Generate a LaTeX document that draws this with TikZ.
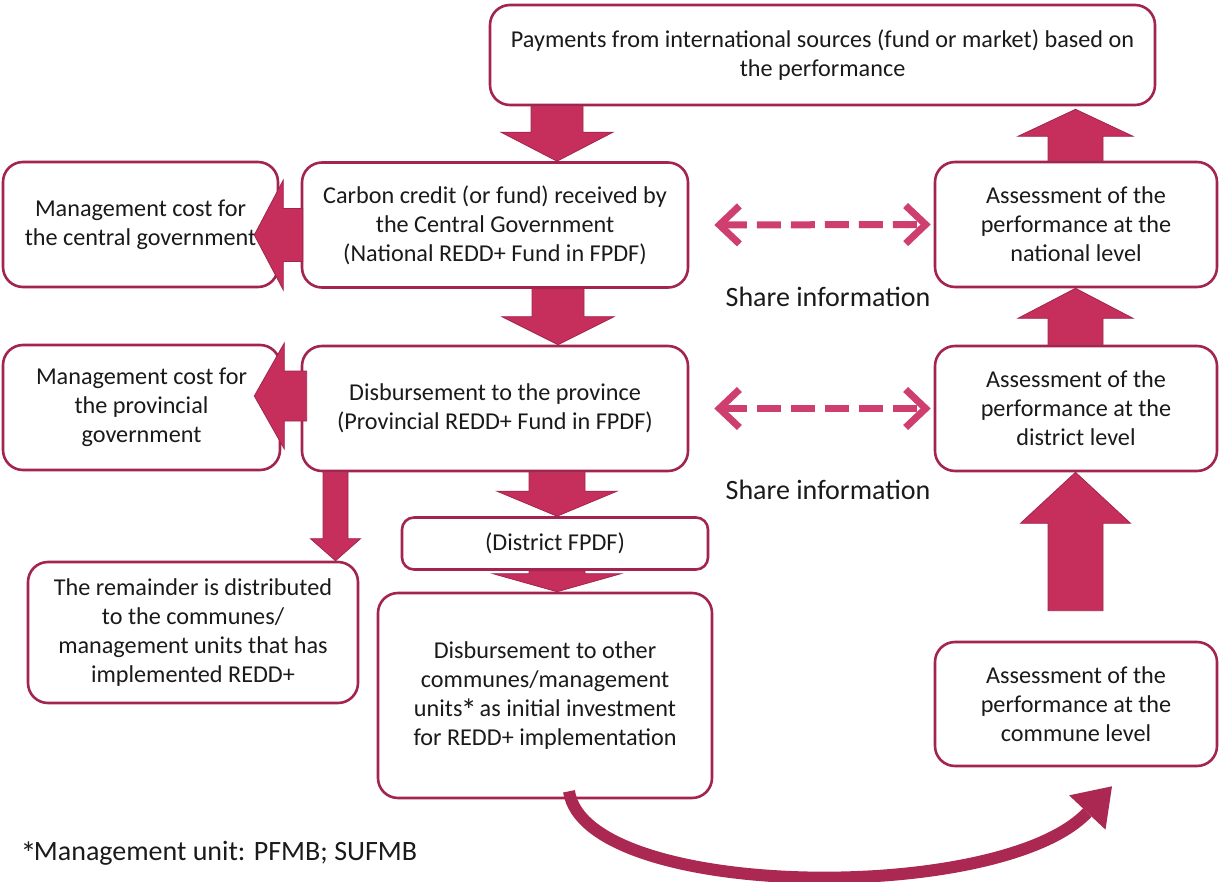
\documentclass[tikz,border=0pt]{standalone}
\usepackage{fontspec}
\setmainfont{Carlito}
\usetikzlibrary{arrows.meta,calc}

\definecolor{boxcol}{HTML}{A3244F}
\definecolor{blockfill}{HTML}{C62F5C}
\definecolor{blockedge}{HTML}{A3244F}
\definecolor{dashcol}{HTML}{CE3E6E}
\definecolor{curvecol}{HTML}{AA2852}
\definecolor{txt}{HTML}{1A1A1A}

% a full-size asterisk for the footnote mark
\newcommand\bigast{\smash{\fontsize{32}{29}\selectfont\kern-0.05em\raisebox{-0.3ex}{*}\kern-0.08em}}

% vertical block arrow: start anchor, end anchor, x, half shaft, half head, signed head length
\newcommand\vblock[6]{%
  \fill[blockarrow] let \p1=(#1), \p2=(#2), \p3=(#3,0) in
    (\x3-#4pt,\y1) -- (\x3-#4pt,\y2+#6pt) -- (\x3-#5pt,\y2+#6pt) -- (\x3,\y2)
    -- (\x3+#5pt,\y2+#6pt) -- (\x3+#4pt,\y2+#6pt) -- (\x3+#4pt,\y1) -- cycle;}
% horizontal block arrow: start anchor, end anchor, y, half shaft, half head, signed head length
\newcommand\hblock[6]{%
  \fill[blockarrow] let \p1=(#1), \p2=(#2), \p3=(0,#3) in
    (\x1,\y3-#4pt) -- (\x2+#6pt,\y3-#4pt) -- (\x2+#6pt,\y3-#5pt) -- (\x2,\y3)
    -- (\x2+#6pt,\y3+#5pt) -- (\x2+#6pt,\y3+#4pt) -- (\x1,\y3+#4pt) -- cycle;}

\tikzset{
  box/.style={draw=boxcol, line width=2.6pt, rounded corners=20pt, fill=white,
    align=center, inner sep=0pt, text=txt, font=\fontsize{24.2}{29}\selectfont},
  label/.style={text=txt, font=\fontsize{28}{33}\selectfont, inner sep=0pt},
  blockarrow/.style={fill=blockfill, draw=blockedge, line width=0.8pt},
  sharearrow/.style={draw=dashcol, line width=7pt, dash pattern=on 24pt off 10pt,
    {Straight Barb[length=20pt,width=38pt]}-{Straight Barb[length=20pt,width=38pt]}},
  curvearrow/.style={draw=curvecol, line width=12pt,
    -{Triangle[length=36pt,width=50pt,line width=0pt]}}
}

\begin{document}
\begin{tikzpicture}[x=1pt,y=-1pt]
\useasboundingbox (0,0) rectangle (1220,882);

% boxes
\node[box, minimum width=665pt, minimum height=100pt] (top) at (822.5,55)
  {Payments from international sources (fund or market) based on\\the performance};
\node[box, minimum width=386pt, minimum height=125pt] (carbon) at (495,225)
  {Carbon credit (or fund) received by\\the Central Government\\(National REDD+ Fund in FPDF)};
\node[box, minimum width=275pt, minimum height=125pt] (mgc) at (140.5,224.5)
  {Management cost for\\the central government};
\node[box, minimum width=282pt, minimum height=125pt] (nat) at (1076,224.5)
  {Assessment of the\\performance at the\\national level};
\node[box, minimum width=386pt, minimum height=125pt] (prov) at (495,408.5)
  {Disbursement to the province\\(Provincial REDD+ Fund in FPDF)};
\node[box, minimum width=277pt, minimum height=125pt] (mgp) at (141.5,407.5)
  {Management cost for\\the provincial\\government};
\node[box, minimum width=282pt, minimum height=125pt] (dist) at (1076,408.5)
  {Assessment of the\\performance at the\\district level};
\node[box, minimum width=306pt, minimum height=52pt, rounded corners=12pt] (dfpdf) at (555,543.5)
  {(District FPDF)};
\node[box, minimum width=330pt, minimum height=141pt] (rem) at (193,632.5)
  {The remainder is distributed\\to the communes/\\management units that has\\implemented REDD+};
\node[box, minimum width=334pt, minimum height=205pt] (other) at (545,695.5)
  {Disbursement to other\\communes/management\\units\bigast{} as initial investment\\for REDD+ implementation};
\node[box, minimum width=282pt, minimum height=124pt] (comm) at (1076,704)
  {Assessment of the\\performance at the\\commune level};

% labels
\node[label] (share1) at (828,297) {Share information};
\node[label] (share2) at (828,490) {Share information};
\node[label, anchor=west] (note) at (22,853) {\bigast Management unit: PFMB; SUFMB};

% block arrows down the fund chain
\vblock{top.south}{carbon.north}{557}{26}{56}{29}
\vblock{carbon.south}{prov.north}{558}{26}{56}{28}
\vblock{prov.south}{dfpdf.north}{557}{28}{60}{25}
\vblock{dfpdf.south}{other.north}{557}{28}{64}{18}
\vblock{prov.south}{rem.north}{335.5}{12.5}{25}{22}

% block arrows to management costs
\coordinate (mgctip) at ([xshift=-25pt]mgc.east);
\coordinate (mgptip) at ([xshift=-27pt]mgp.east);
\hblock{[xshift=2pt]carbon.west}{mgctip}{235}{26.5}{55}{29}
\hblock{[xshift=6pt]prov.west}{mgptip}{396}{25}{53}{30}

% block arrows up the assessment chain
\coordinate (commtop) at ([yshift=30pt]comm.north);
\coordinate (toptip) at ([yshift=-3pt]top.south);
\vblock{nat.north}{toptip}{1075.5}{27.5}{57.5}{-27}
\vblock{dist.north}{nat.south}{1075.5}{27.5}{57.5}{-30}
\vblock{commtop}{dist.south}{1075.5}{27.5}{55}{-51}

% information sharing
\draw[sharearrow, shorten <=25pt, shorten >=3pt] (carbon.east) -- (nat.west);
\draw[sharearrow, shorten <=25pt, shorten >=3pt] (prov.east) -- (dist.west);

% curved arrow from disbursement to commune assessment
\coordinate (cstart) at ([xshift=24pt,yshift=8pt]other.south);
\coordinate (cend) at ([xshift=36pt,yshift=-19pt]comm.south);
\draw[curvearrow] (cstart) .. controls (585,900) and (1000,905) .. (cend);
\end{tikzpicture}
\end{document}
